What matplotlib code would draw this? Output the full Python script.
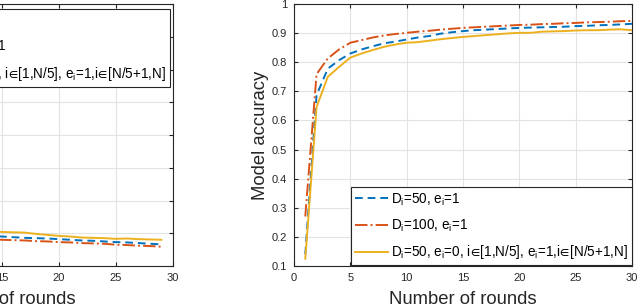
import matplotlib
matplotlib.use('Agg')
import matplotlib.pyplot as plt

plt.rcParams['font.family'] = ['Liberation Sans', 'DejaVu Sans']
plt.rcParams['mathtext.fontset'] = 'custom'
plt.rcParams['mathtext.rm'] = 'Liberation Sans'
plt.rcParams['mathtext.fallback'] = 'stixsans'

# left panel (loss, mostly cropped off the picture)
rounds_left = list(range(14, 30))
loss_d50 = [0.092, 0.090, 0.088, 0.086, 0.085, 0.084, 0.082, 0.080, 0.078, 0.077, 0.075, 0.073, 0.072, 0.070, 0.068, 0.066]
loss_d100 = [0.082, 0.080, 0.079, 0.078, 0.076, 0.075, 0.073, 0.072, 0.070, 0.069, 0.068, 0.065, 0.064, 0.062, 0.061, 0.059]
loss_mixed = [0.106, 0.104, 0.103, 0.102, 0.098, 0.095, 0.092, 0.090, 0.087, 0.086, 0.085, 0.083, 0.084, 0.082, 0.081, 0.080]

# right panel (model accuracy)
rounds = list(range(1, 31))
acc_d50 = [0.14, 0.687, 0.778, 0.807, 0.830, 0.844, 0.855, 0.865, 0.871, 0.878, 0.885, 0.890, 0.898, 0.903, 0.907,
           0.910, 0.912, 0.914, 0.916, 0.918, 0.919, 0.920, 0.921, 0.922, 0.924, 0.925, 0.927, 0.928, 0.930, 0.932]
acc_d100 = [0.27, 0.759, 0.813, 0.844, 0.867, 0.876, 0.885, 0.892, 0.897, 0.901, 0.905, 0.908, 0.912, 0.915, 0.918,
            0.920, 0.922, 0.924, 0.926, 0.928, 0.929, 0.931, 0.932, 0.934, 0.935, 0.937, 0.938, 0.939, 0.941, 0.942]
acc_mixed = [0.125, 0.646, 0.750, 0.784, 0.816, 0.830, 0.842, 0.853, 0.861, 0.867, 0.869, 0.874, 0.879, 0.883, 0.887,
             0.890, 0.893, 0.896, 0.899, 0.901, 0.901, 0.905, 0.906, 0.907, 0.909, 0.910, 0.910, 0.912, 0.913, 0.910]

labels = [r'D$_\mathrm{i}$=50, e$_\mathrm{i}$=1',
          r'D$_\mathrm{i}$=100, e$_\mathrm{i}$=1',
          r'D$_\mathrm{i}$=50, e$_\mathrm{i}$=0, i$\!\in\!$[1,N/5], e$_\mathrm{i}$=1,i$\!\in\!$[N/5+1,N]']

blue = '#0072BD'
red = '#D95319'
yellow = '#EDB120'
axcol = '#262626'


def style(ax):
    ax.set_xlim(0, 30)
    ax.set_xticks(range(0, 31, 5))
    ax.grid(True, color='#e3e3e3', linewidth=0.8)
    ax.set_axisbelow(True)
    ax.tick_params(direction='in', top=True, right=True, length=3, labelsize=8, colors=axcol, pad=5)
    for s in ax.spines.values():
        s.set_color(axcol)
        s.set_linewidth(0.8)
    ax.set_xlabel('Number of rounds', fontsize=13.3, color=axcol, labelpad=6)


def add_lines(ax, x, ys):
    ax.plot(x, ys[0], '--', color=blue, lw=1.4, dashes=(4, 2.5), label=labels[0])
    ax.plot(x, ys[1], '-.', color=red, lw=1.4, label=labels[1])
    ax.plot(x, ys[2], '-', color=yellow, lw=1.4, label=labels[2])


def add_legend(ax, loc, anchor):
    leg = ax.legend(loc=loc, bbox_to_anchor=anchor, fontsize=9.75, fancybox=False,
                    edgecolor=axcol, framealpha=1, handlelength=2.45, handletextpad=0.2,
                    labelspacing=0.72, borderpad=0.28, borderaxespad=0)
    leg.get_frame().set_linewidth(0.8)


fig = plt.figure(figsize=(6.4, 3.06), dpi=100)

ax1 = fig.add_axes([-0.264, 0.1307, 0.534, 0.8562])
add_lines(ax1, rounds_left, [loss_d50, loss_d100, loss_mixed])
ax1.set_ylim(0, 0.8)
ax1.set_yticks([i / 10 for i in range(9)])
style(ax1)
add_legend(ax1, 'upper right', (0.991, 0.981))

ax2 = fig.add_axes([0.4594, 0.1307, 0.5281, 0.8562])
add_lines(ax2, rounds, [acc_d50, acc_d100, acc_mixed])
ax2.set_ylim(0.1, 1)
ax2.set_yticks([i / 10 for i in range(1, 11)])
ax2.set_yticklabels(['0.1', '0.2', '0.3', '0.4', '0.5', '0.6', '0.7', '0.8', '0.9', '1'])
style(ax2)
ax2.set_ylabel('Model accuracy', fontsize=13.3, color=axcol, labelpad=2)
add_legend(ax2, 'lower right', (1.0, 0.003))

fig.savefig('out.png', dpi=100)
